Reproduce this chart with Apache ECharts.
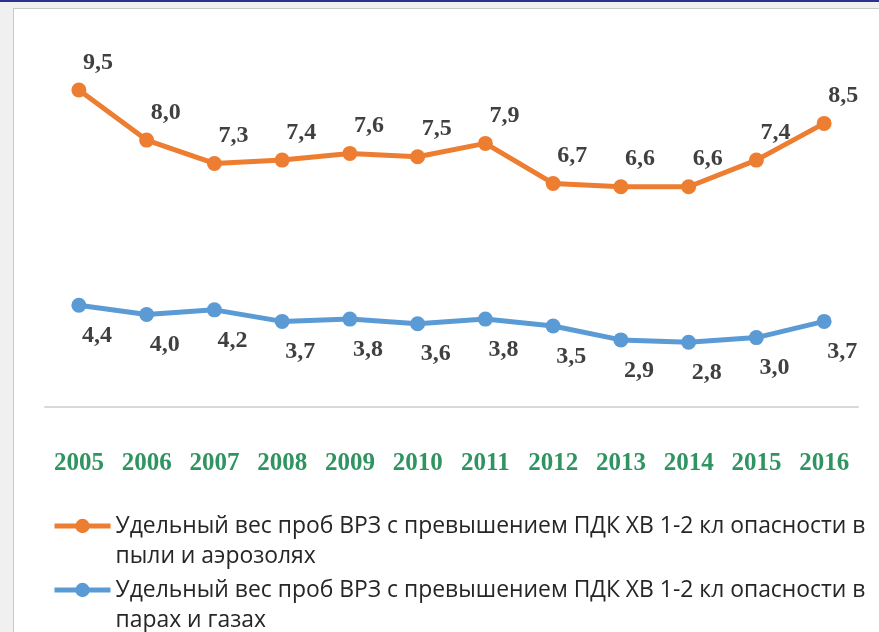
<!DOCTYPE html>
<html><head><meta charset="utf-8">
<script src="https://cdn.jsdelivr.net/npm/echarts@6/dist/echarts.min.js"></script>
<style>
html,body{margin:0;padding:0;background:#f0f0f0;width:879px;height:632px;overflow:hidden;position:relative}
#topbar{position:absolute;left:0;top:0;width:879px;height:2px;background:#2b3290}
#chart{position:absolute;left:13px;top:8px;width:865px;height:623px;border-left:1px solid #c8c8c8;border-top:1px solid #c8c8c8;background:#fff}
</style></head>
<body><div id="topbar"></div><div id="chart"></div>
<script>
const years = ['2005','2006','2007','2008','2009','2010','2011','2012','2013','2014','2015','2016'];
const dustValues = [9.5,8.0,7.3,7.4,7.6,7.5,7.9,6.7,6.6,6.6,7.4,8.5];
const gasValues = [4.4,4.0,4.2,3.7,3.8,3.6,3.8,3.5,2.9,2.8,3.0,3.7];
const dustNameLines = ['Удельный вес проб ВРЗ с превышением ПДК ХВ 1-2 кл опасности в', 'пыли и аэрозолях'];
const gasNameLines = ['Удельный вес проб ВРЗ с превышением ПДК ХВ 1-2 кл опасности в', 'парах и газах'];
const dustName = dustNameLines.join(' ');
const gasName = gasNameLines.join(' ');
const nameLines = {}; nameLines[dustName] = dustNameLines; nameLines[gasName] = gasNameLines;
const fmt = p => p.value.toFixed(1).replace('.', ',');
const labelFont = {fontFamily:'Liberation Serif', fontWeight:'bold', fontSize:24, color:'#404040'};
const legendBase = {orient:'vertical', left:33, itemWidth:56, itemHeight:18,
  lineStyle:{width:5},
  formatter: n => '\n' + nameLines[n].join('\n'),
  textStyle:{fontFamily:'Open Sans', fontSize:22.9, color:'#262626', lineHeight:30}};
const chart = echarts.init(document.getElementById('chart'), null, {renderer:'canvas'});
chart.setOption({
  animation:false,
  backgroundColor:'#fff',
  grid:{left:31, right:21, top:51, bottom:225},
  xAxis:{type:'category', data:years, boundaryGap:true,
    axisTick:{show:false},
    axisLine:{lineStyle:{color:'#d9d9d9', width:2}},
    axisLabel:{margin:44, fontFamily:'Liberation Serif', fontWeight:'bold', fontSize:25, color:'#2f9461'}},
  yAxis:[
    {type:'value', min:0, max:15, show:false, splitLine:{show:false}},
    {type:'value', min:0, max:10.4, show:false, splitLine:{show:false}}
  ],
  legend:[
    Object.assign({}, legendBase, {top:467, data:[dustName]}),
    Object.assign({}, legendBase, {top:531, data:[gasName]})
  ],
  series:[
    {name:dustName, type:'line', yAxisIndex:1, data:dustValues,
      color:'#ED7D31', lineStyle:{width:5, color:'#ED7D31'}, symbol:'circle', symbolSize:15,
      itemStyle:{color:'#ED7D31'},
      label:{show:true, position:'top', distance:8, offset:[19,0], formatter:fmt, ...labelFont}},
    {name:gasName, type:'line', yAxisIndex:0, data:gasValues,
      color:'#5B9BD5', lineStyle:{width:5, color:'#5B9BD5'}, symbol:'circle', symbolSize:15,
      itemStyle:{color:'#5B9BD5'},
      label:{show:true, position:'bottom', distance:11, offset:[18,0], formatter:fmt, ...labelFont}}
  ]
});
</script></body></html>
